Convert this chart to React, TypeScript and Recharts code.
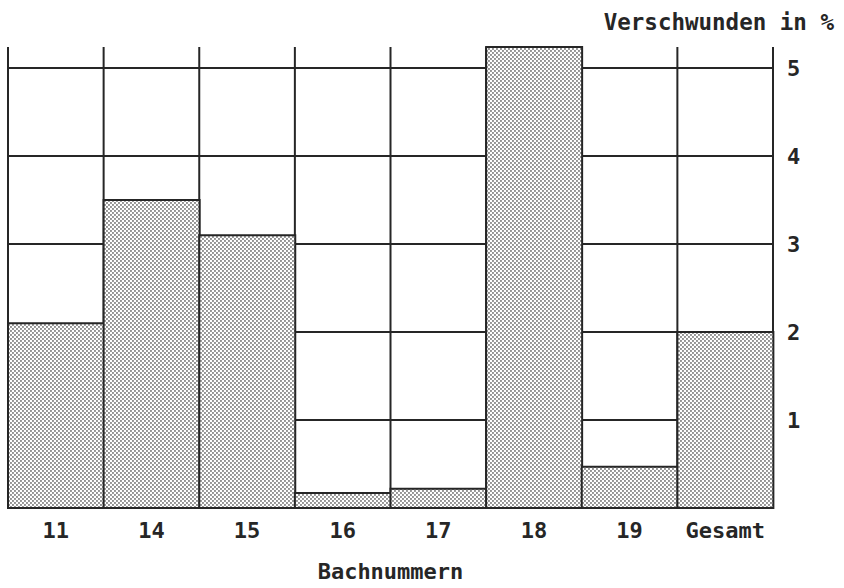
import { BarChart, Bar, XAxis, YAxis, CartesianGrid } from "recharts";

const categories = ["11", "14", "15", "16", "17", "18", "19", "Gesamt"];
const lossPercent = [2.1, 3.5, 3.1, 0.17, 0.22, 5.24, 0.47, 2.0];
const yTicks = [0, 1, 2, 3, 4, 5];
const yMax = 5.24;

const data = categories.map((name, i) => ({ name, value: lossPercent[i] }));

const font = "'DejaVu Sans Mono', monospace";
const ink = "#262626";

const App = () => {
    return (
        <div style={{ position: "absolute", left: 0, top: 0, background: "#fff" }}>
            <BarChart
                width={844}
                height={588}
                data={data}
                barCategoryGap={0}
                margin={{ top: 47, right: 0, left: 8, bottom: 0 }}
            >
                <defs>
                    <pattern id="dots" width="4" height="4" patternUnits="userSpaceOnUse">
                        <rect width="4" height="4" fill="#fff" />
                        <rect x="0.3" y="0.3" width="1.35" height="1.35" fill="#222" />
                        <rect x="2.3" y="2.3" width="1.35" height="1.35" fill="#222" />
                    </pattern>
                </defs>

                {/* grid: verticals on category borders, horizontals only at the ticks */}
                <CartesianGrid
                    stroke={ink}
                    strokeWidth={2}
                    verticalCoordinatesGenerator={({ offset }: any) =>
                        Array.from(
                            { length: categories.length + 1 },
                            (_, i) => offset.left + (offset.width * i) / categories.length
                        )
                    }
                    horizontalCoordinatesGenerator={({ offset }: any) =>
                        yTicks.map((t) => offset.top + offset.height * (1 - t / yMax))
                    }
                />

                <XAxis
                    dataKey="name"
                    height={80}
                    axisLine={false}
                    tickLine={false}
                    tickMargin={8}
                    tick={{ fill: ink, fontFamily: font, fontWeight: 700, fontSize: 22 }}
                    label={{
                        value: "Bachnummern",
                        position: "insideBottom",
                        offset: 9,
                        fill: ink,
                        fontFamily: font,
                        fontWeight: 700,
                        fontSize: 22,
                    }}
                />

                <YAxis
                    orientation="right"
                    width={71}
                    domain={[0, yMax]}
                    ticks={yTicks}
                    tickFormatter={(v: number) => (v === 0 ? "" : String(v))}
                    axisLine={false}
                    tickLine={false}
                    tickMargin={8}
                    tick={{ fill: ink, fontFamily: font, fontWeight: 700, fontSize: 22 }}
                    label={{
                        content: ({ viewBox }: any) => (
                            <text
                                x={viewBox.x + viewBox.width - 10}
                                y={viewBox.y - 17}
                                textAnchor="end"
                                fill={ink}
                                fontFamily={font}
                                fontWeight={700}
                                fontSize={22.5}
                            >
                                Verschwunden in %
                            </text>
                        ),
                    }}
                />

                <Bar
                    dataKey="value"
                    fill="url(#dots)"
                    stroke={ink}
                    strokeWidth={2}
                    isAnimationActive={false}
                />
            </BarChart>
        </div>
    );
};

export default App;
